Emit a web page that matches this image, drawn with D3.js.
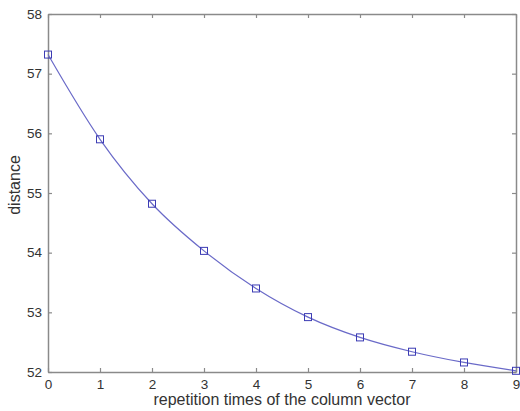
<!DOCTYPE html>
<html>
<head>
<meta charset="utf-8">
<script src="https://cdn.jsdelivr.net/npm/d3@7.9.0/dist/d3.min.js"></script>
<style>
  body { margin: 0; background: #fff; }
  svg { display: block; font-family: "Liberation Sans", Arial, sans-serif; }
</style>
</head>
<body>
<svg id="chart" width="520" height="411"></svg>
<script>
// repetition count on x, distance on y
const repetitions = [0, 1, 2, 3, 4, 5, 6, 7, 8, 9];
const distances = [57.32, 55.9, 54.82, 54.03, 53.4, 52.92, 52.58, 52.34, 52.16, 52.02];
const xTicks = [0, 1, 2, 3, 4, 5, 6, 7, 8, 9];
const yTicks = [52, 53, 54, 55, 56, 57, 58];

const svg = d3.select("#chart");
const margin = { left: 48, right: 4, top: 14, bottom: 39 };
const W = 520, H = 411;

const x = d3.scaleLinear().domain([0, 9]).range([margin.left, W - margin.right]);
const y = d3.scaleLinear().domain([52, 58]).range([H - margin.bottom, margin.top]);

const axisColor = "#8a8a8a";
const textColor = "#333";

// axes (inward ticks, box style)
const axisBottomG = svg.append("g").attr("transform", `translate(0,${y(52)})`)
  .call(d3.axisBottom(x).tickValues(xTicks).tickFormat(d3.format("d"))
    .tickSizeInner(-4).tickSizeOuter(0).tickPadding(7));
const axisTopG = svg.append("g").attr("transform", `translate(0,${y(58)})`)
  .call(d3.axisTop(x).tickValues(xTicks).tickSizeInner(-4).tickSizeOuter(0).tickFormat(""));
const axisLeftG = svg.append("g").attr("transform", `translate(${x(0)},0)`)
  .call(d3.axisLeft(y).tickValues(yTicks).tickFormat(d3.format("d"))
    .tickSizeInner(-4).tickSizeOuter(0).tickPadding(6));
const axisRightG = svg.append("g").attr("transform", `translate(${x(9)},0)`)
  .call(d3.axisRight(y).tickValues(yTicks).tickSizeInner(-4).tickSizeOuter(0).tickFormat(""));

[axisBottomG, axisTopG, axisLeftG, axisRightG].forEach(g => {
  g.select(".domain").attr("stroke", axisColor).attr("stroke-width", 1.5);
  g.selectAll(".tick line").attr("stroke", axisColor).attr("stroke-width", 1.2);
  g.selectAll(".tick text").attr("fill", textColor).attr("font-size", 13.5)
    .attr("font-family", "'Liberation Sans', Arial, sans-serif");
});

// line
const line = d3.line()
  .x((d, i) => x(repetitions[i]))
  .y(d => y(d))
  .curve(d3.curveMonotoneX);

svg.append("path")
  .datum(distances)
  .attr("d", line)
  .attr("fill", "none")
  .attr("stroke", "#6a6ac8")
  .attr("stroke-width", 1.2);

// square markers
svg.selectAll("rect.marker")
  .data(distances)
  .join("rect")
  .attr("class", "marker")
  .attr("x", (d, i) => x(repetitions[i]) - 3.5)
  .attr("y", d => y(d) - 3.5)
  .attr("width", 7)
  .attr("height", 7)
  .attr("fill", "none")
  .attr("stroke", "#3c3cb4")
  .attr("stroke-width", 1);

// axis labels
svg.append("text")
  .attr("x", (x(0) + x(9)) / 2)
  .attr("y", 405)
  .attr("text-anchor", "middle")
  .attr("fill", textColor)
  .attr("font-size", 16)
  .text("repetition times of the column vector");

svg.append("text")
  .attr("transform", `translate(20,185) rotate(-90)`)
  .attr("text-anchor", "middle")
  .attr("fill", textColor)
  .attr("font-size", 16)
  .text("distance");
</script>
</body>
</html>
